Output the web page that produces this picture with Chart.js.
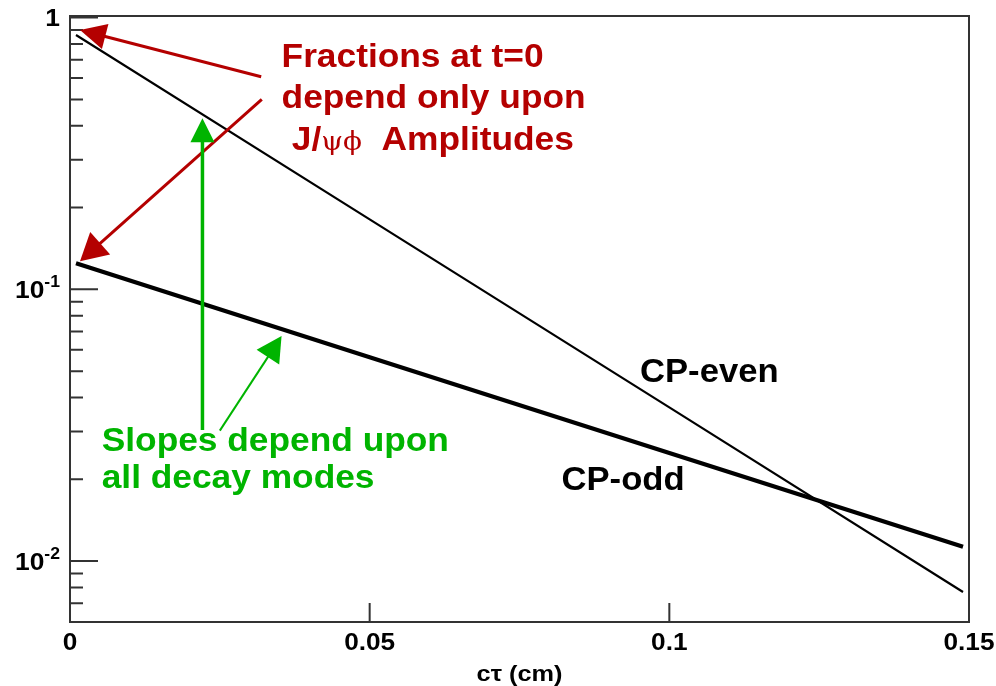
<!DOCTYPE html>
<html><head><meta charset="utf-8">
<script src="https://cdn.jsdelivr.net/npm/chart.js@4"></script>
<style>html,body{margin:0;padding:0;background:#fff;}canvas{display:block}</style>
</head><body>
<canvas id="c" width="996" height="686"></canvas>
<script>
// ---- data ----
const ctValues = [0.001, 0.05, 0.1, 0.149];
const cpEven = [0.863, 0.181, 0.0368, 0.0077];
const cpOdd = [0.1247, 0.0563, 0.025, 0.01129];
const seriesNames = ['CP-even', 'CP-odd'];
const xTicks = [0, 0.05, 0.1, 0.15];
const xTickLabels = ['0', '0.05', '0.1', '0.15'];
const yMajorTicks = [1, 0.1, 0.01];
const yTickLabels = [['1', ''], ['10', '-1'], ['10', '-2']];
const yMinorTicks = [0.9,0.8,0.7,0.6,0.5,0.4,0.3,0.2,0.09,0.08,0.07,0.06,0.05,0.04,0.03,0.02,0.009,0.008,0.007];
const xTitle = 'cτ (cm)';

// ---- annotations (data coordinates) ----
const redArrows = [
  {from: [0.0319, 0.606], to: [0.00167, 0.900], w: 3, len: 26, half: 13},
  {from: [0.0320, 0.500], to: [0.00167, 0.127], w: 3, len: 27, half: 15}
];
const greenArrows = [
  {from: [0.0221, 0.0304], to: [0.0221, 0.426], w: 3.5, len: 24, half: 12},
  {from: [0.0250, 0.0302], to: [0.0353, 0.0673], w: 2, len: 25, half: 13.5}
];
const redLines = [
  {pos: [0.0353, 0.660], parts: [['Fractions at t=0', 'b']]},
  {pos: [0.0353, 0.464], parts: [['depend only upon', 'b']]},
  {pos: [0.0370, 0.326], parts: [['J/', 'b'], ['ψϕ', 's'], ['  Amplitudes', 'b']]}
];
const greenLines = [
  {pos: [0.00529, 0.0254], parts: [['Slopes depend upon', 'b']]},
  {pos: [0.00529, 0.01852], parts: [['all decay modes', 'b']]}
];
const seriesLabelPos = [[0.0951, 0.04547], [0.0820, 0.01825]];

const RED = '#b40000', GREEN = '#00b400', AXIS = '#333333';
const SANS = '"Liberation Sans", Arial, Helvetica, sans-serif';
const SERIF = '"DejaVu Serif", "Liberation Serif", serif';

function drawParts(ctx, parts, px, py, size, color, sx) {
  ctx.save();
  ctx.translate(px, py);
  ctx.scale(sx, 1);
  ctx.fillStyle = color;
  ctx.textBaseline = 'alphabetic';
  ctx.textAlign = 'left';
  let cx = 0;
  parts.forEach(([t, f]) => {
    ctx.font = (f === 'b' ? 'bold ' + size + 'px ' + SANS : Math.round(size * 0.78) + 'px ' + SERIF);
    ctx.fillText(t, cx, 0);
    cx += ctx.measureText(t).width;
  });
  ctx.restore();
}

function drawArrow(ctx, x, y, a, color) {
  const x0 = x.getPixelForValue(a.from[0]), y0 = y.getPixelForValue(a.from[1]);
  const x1 = x.getPixelForValue(a.to[0]), y1 = y.getPixelForValue(a.to[1]);
  const dx = x1 - x0, dy = y1 - y0, L = Math.hypot(dx, dy);
  const ux = dx / L, uy = dy / L;
  const bx = x1 - ux * a.len, by = y1 - uy * a.len;
  ctx.strokeStyle = color; ctx.fillStyle = color; ctx.lineWidth = a.w;
  ctx.beginPath(); ctx.moveTo(x0, y0); ctx.lineTo(bx + ux * 2, by + uy * 2); ctx.stroke();
  ctx.beginPath();
  ctx.moveTo(x1, y1);
  ctx.lineTo(bx - uy * a.half, by + ux * a.half);
  ctx.lineTo(bx + uy * a.half, by - ux * a.half);
  ctx.closePath(); ctx.fill();
}

const overlay = {
  id: 'overlay',
  afterDatasetsDraw(chart) {
    const {ctx, chartArea: a, scales: {x, y}} = chart;
    ctx.save();
    // frame
    ctx.strokeStyle = AXIS; ctx.lineWidth = 2;
    ctx.strokeRect(a.left, a.top, a.right - a.left, a.bottom - a.top);
    // ticks
    ctx.beginPath();
    yMajorTicks.forEach(v => { const p = y.getPixelForValue(v); ctx.moveTo(a.left, p); ctx.lineTo(a.left + 28, p); });
    yMinorTicks.forEach(v => { const p = y.getPixelForValue(v); ctx.moveTo(a.left, p); ctx.lineTo(a.left + 13, p); });
    xTicks.forEach(v => { const p = x.getPixelForValue(v); ctx.moveTo(p, a.bottom); ctx.lineTo(p, a.bottom - 19); });
    ctx.stroke();
    // y tick labels
    ctx.fillStyle = '#000';
    yMajorTicks.forEach((v, i) => {
      const p = y.getPixelForValue(v);
      const [base, exp] = yTickLabels[i];
      ctx.font = 'bold 24px ' + SANS;
      const wb = ctx.measureText(base).width * 1.1;
      ctx.font = 'bold 16px ' + SANS;
      const we = exp ? ctx.measureText(exp).width * 1.1 : 0;
      const right = a.left - 10;
      const sx = right - wb - we;
      drawParts(ctx, [[base, 'b']], sx, p + 8.5, 24, '#000', 1.1);
      if (exp) drawParts(ctx, [[exp, 'b']], sx + wb, p - 2.5, 16, '#000', 1.1);
    });
    // x tick labels
    xTicks.forEach((v, i) => {
      const p = x.getPixelForValue(v);
      ctx.font = 'bold 23px ' + SANS;
      const w = ctx.measureText(xTickLabels[i]).width * 1.14;
      drawParts(ctx, [[xTickLabels[i], 'b']], p - w / 2, a.bottom + 27.5, 23, '#000', 1.14);
    });
    // x title
    ctx.font = 'bold 22px ' + SANS;
    const tw = ctx.measureText(xTitle).width * 1.15;
    drawParts(ctx, [[xTitle, 'b']], (a.left + a.right) / 2 - tw / 2, a.bottom + 58.5, 22, '#000', 1.15);
    // series labels
    seriesNames.forEach((n, i) => {
      drawParts(ctx, [[n, 'b']], x.getPixelForValue(seriesLabelPos[i][0]), y.getPixelForValue(seriesLabelPos[i][1]), 33, '#000', 1.05);
    });
    // arrows
    redArrows.forEach(ar => drawArrow(ctx, x, y, ar, RED));
    greenArrows.forEach(ar => drawArrow(ctx, x, y, ar, GREEN));
    // annotation text
    redLines.forEach(l => drawParts(ctx, l.parts, x.getPixelForValue(l.pos[0]), y.getPixelForValue(l.pos[1]), 33, RED, 1.07));
    greenLines.forEach(l => drawParts(ctx, l.parts, x.getPixelForValue(l.pos[0]), y.getPixelForValue(l.pos[1]), 33, GREEN, 1.07));
    ctx.restore();
  }
};

new Chart(document.getElementById('c'), {
  type: 'line',
  data: {
    datasets: [
      {label: seriesNames[0], data: ctValues.map((v, i) => ({x: v, y: cpEven[i]})), borderColor: '#000', borderWidth: 2.2, pointRadius: 0, tension: 0, fill: false},
      {label: seriesNames[1], data: ctValues.map((v, i) => ({x: v, y: cpOdd[i]})), borderColor: '#000', borderWidth: 4.2, pointRadius: 0, tension: 0, fill: false}
    ]
  },
  options: {
    responsive: false,
    devicePixelRatio: 1,
    animation: false,
    layout: {padding: {left: 70, top: 16, right: 27, bottom: 64}},
    plugins: {legend: {display: false}, tooltip: {enabled: false}},
    scales: {
      x: {type: 'linear', min: 0, max: 0.15, display: false},
      y: {type: 'logarithmic', min: 0.00597, max: 1.0136, display: false}
    }
  },
  plugins: [overlay]
});
</script>
</body></html>
